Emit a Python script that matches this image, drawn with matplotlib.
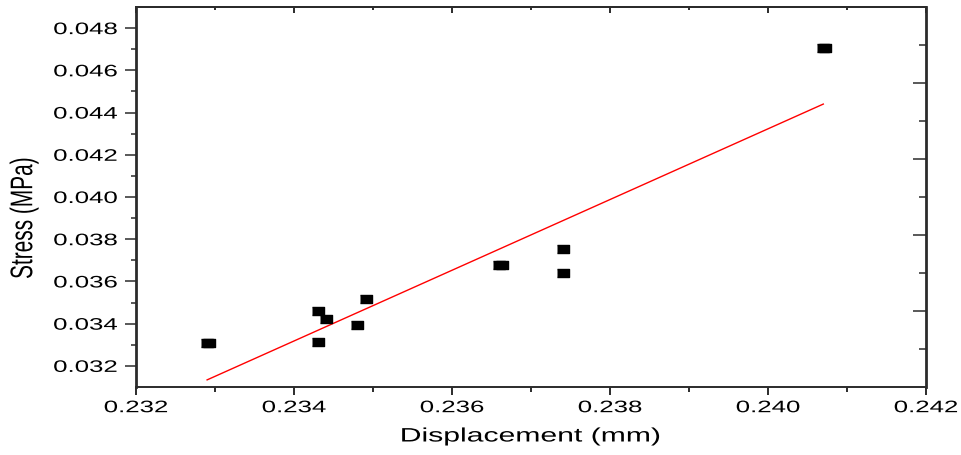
import numpy as np
import matplotlib
matplotlib.use("Agg")
import matplotlib.pyplot as plt
from matplotlib.patheffects import AbstractPathEffect
from matplotlib.transforms import Affine2D

# measured points (displacement mm, stress MPa)
disp = [0.23290, 0.23293, 0.23430, 0.23440, 0.23430, 0.23480, 0.23491,
        0.23660, 0.23663, 0.23741, 0.23741, 0.24069, 0.24072]
stress = [0.03309, 0.03309, 0.03460, 0.03422, 0.03314, 0.03392, 0.03515,
          0.03678, 0.03678, 0.03754, 0.03638, 0.04705, 0.04705]

# linear fit line as drawn in the original
fit_x = [0.23290, 0.24070]
fit_y = [0.031337, 0.044402]

x_major = [0.232, 0.234, 0.236, 0.238, 0.240, 0.242]
x_minor = [0.233, 0.235, 0.237, 0.239, 0.241]
y_major = [0.032, 0.034, 0.036, 0.038, 0.040, 0.042, 0.044, 0.046, 0.048]
y_minor = [0.033, 0.035, 0.037, 0.039, 0.041, 0.043, 0.045, 0.047]


class StretchX(AbstractPathEffect):
    # the source image is stretched sideways, so widen the glyphs too
    def __init__(self, sx=1.55, anchor="center"):
        super().__init__()
        self.sx = sx
        self.anchor = anchor

    def draw_path(self, renderer, gc, tpath, affine, rgbFace=None):
        ext = tpath.get_extents(affine)
        x0 = ext.x1 if self.anchor == "right" else (ext.x0 + ext.x1) / 2
        t = affine + Affine2D().translate(-x0, 0).scale(self.sx, 1).translate(x0, 0)
        renderer.draw_path(gc, tpath, t, rgbFace)


plt.rcParams["font.family"] = ["Liberation Sans", "DejaVu Sans"]
spine_col = "#2b2b2b"

fig = plt.figure(figsize=(9.61, 4.56), dpi=100)
ax = fig.add_axes([136 / 961, 68 / 456, 790 / 961, 380 / 456])

rect = [(-0.65, -0.5), (0.65, -0.5), (0.65, 0.5), (-0.65, 0.5)]
ax.plot(disp, stress, linestyle="none", marker=rect, markersize=8.3,
        color="black", zorder=3)
ax.plot(fit_x, fit_y, color="red", linewidth=1.0, zorder=2)

ax.set_xlim(0.232, 0.242)
ax.set_ylim(0.031, 0.049)
ax.set_xticks(x_major)
ax.set_xticks(x_minor, minor=True)
ax.set_yticks(y_major)
ax.set_yticks(y_minor, minor=True)
ax.set_xticklabels([f"{v:.3f}" for v in x_major])
ax.set_yticklabels([f"{v:.3f}" for v in y_major])

ax.tick_params(axis="x", which="major", direction="out", length=5.5, width=1.4,
               color=spine_col, labelsize=12, pad=4)
ax.tick_params(axis="x", which="minor", direction="out", length=3.5, width=1.4,
               color=spine_col)
ax.tick_params(axis="y", which="major", direction="out", length=8, width=1.1,
               color=spine_col, labelsize=12, pad=5.5)
ax.tick_params(axis="y", which="minor", direction="out", length=3.8, width=1.1,
               color=spine_col)
ax.tick_params(right=False, top=False, which="both")

for lbl in ax.get_xticklabels():
    lbl.set_path_effects([StretchX(1.55)])
for lbl in ax.get_yticklabels():
    lbl.set_path_effects([StretchX(1.55, "right")])

for side in ["left", "right"]:
    ax.spines[side].set_linewidth(2.0)
    ax.spines[side].set_color(spine_col)
for side in ["top", "bottom"]:
    ax.spines[side].set_linewidth(1.4)
    ax.spines[side].set_color(spine_col)

# top axis: inward ticks, no labels
top = ax.secondary_xaxis("top")
top.set_xticks(x_major)
top.set_xticks(x_minor, minor=True)
top.tick_params(which="major", direction="in", length=4.5, width=1.4,
                color=spine_col, labeltop=False)
top.tick_params(which="minor", direction="in", length=2.5, width=1.4,
                color=spine_col)
top.spines["top"].set_linewidth(1.4)
top.spines["top"].set_color(spine_col)

# right axis: Origin draws its own unlinked scale there
right = ax.twinx()
right.set_ylim(0, 1)
right.set_yticks([0.2, 0.4, 0.6, 0.8])
right.set_yticks([0.1, 0.3, 0.5, 0.7, 0.9], minor=True)
right.tick_params(axis="y", which="major", direction="in", length=9.5, width=1.1,
                  color=spine_col, labelright=False)
right.tick_params(axis="y", which="minor", direction="in", length=5, width=1.1,
                  color=spine_col)
for s in right.spines.values():
    s.set_visible(False)

xl = fig.text(531 / 961, 1 - 438 / 456, "Displacement (mm)", fontsize=14,
              ha="center", va="center")
xl.set_path_effects([StretchX(1.55)])
yl = fig.text(24 / 961, 1 - 219 / 456, "Stress (MPa)", fontsize=15,
              rotation=90, ha="center", va="center")
yl.set_path_effects([StretchX(1.5)])

fig.savefig("out.png", dpi=100)
